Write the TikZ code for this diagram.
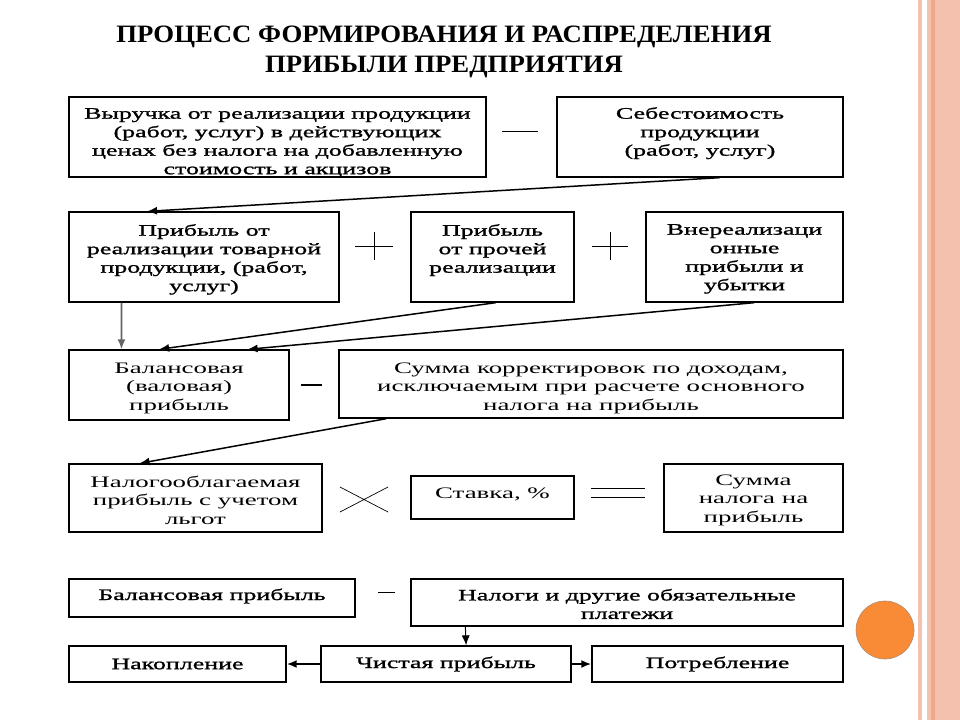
\documentclass[tikz,border=0pt]{standalone}
\usepackage{fontspec}
\setmainfont{Liberation Serif}
\newfontfamily\boxfont[FakeStretch=1.68]{Liberation Serif}
\newfontfamily\boxfontb[FakeStretch=1.62,FakeBold=1.2]{Liberation Serif}
\newfontfamily\titlefont[FakeStretch=1.07]{Liberation Serif}
\usetikzlibrary{arrows.meta,calc}
\definecolor{stripeA}{HTML}{F3C1AE}
\definecolor{stripeB}{HTML}{EDA88E}
\definecolor{orangeC}{HTML}{F98A36}
\definecolor{orangeE}{HTML}{B08A70}
\begin{document}
\begin{tikzpicture}[x=1pt,y=-1pt,
 box/.style={draw=black,line width=1.3pt,inner sep=0pt},
 txt/.style={font=\boxfont\fontsize{16}{18.5}\selectfont,align=center,inner sep=0pt},
 txtb/.style={font=\boxfontb\fontsize{16}{18.5}\selectfont,align=center,inner sep=0pt},
 arr/.style={line width=1.5pt,-{Latex[length=10pt,width=8pt]}},
 op/.style={line width=1pt}]
\fill[white] (0,0) rectangle (960,720);
\useasboundingbox (0,0) rectangle (960,720);
% decorative stripes and circle
\fill[stripeA] (918,0) rectangle (922,720);
\fill[stripeA] (927,0) rectangle (960,720);
\fill[stripeB] (931,0) rectangle (935,720);
\fill[orangeC,draw=orangeE,line width=0.6pt] (885,630) circle (29);
% title
\node[font=\titlefont\bfseries\fontsize{25}{30}\selectfont,align=center,inner sep=0pt] (title) at (444,52) {ПРОЦЕСС ФОРМИРОВАНИЯ И РАСПРЕДЕЛЕНИЯ\\ПРИБЫЛИ ПРЕДПРИЯТИЯ};
% row 1
\node[box,minimum width=417,minimum height=80] (A) at (277.5,137) {};
\node[txtb,anchor=north] (At) at (277.5,108) {Выручка от реализации продукции\\(работ, услуг) в действующих\\ценах без налога на добавленную\\стоимость и акцизов};
\node[box,minimum width=286,minimum height=80] (B) at (700,137) {};
\node[txtb,anchor=north] (Bt) at (700,107) {Себестоимость\\продукции\\(работ, услуг)};
% row 2
\node[box,minimum width=270,minimum height=90] (C) at (204,257) {};
\node[txtb,anchor=north] (Ct) at (204,224) {Прибыль от\\реализации товарной\\продукции, (работ,\\услуг)};
\node[box,minimum width=163,minimum height=90] (D) at (492.5,257) {};
\node[txtb,anchor=north] (Dt) at (492.5,224) {Прибыль\\от прочей\\реализации};
\node[box,minimum width=197,minimum height=90] (E) at (744.5,257) {};
\node[txtb,anchor=north] (Et) at (744.5,224) {Внереализаци\\онные\\прибыли и\\убытки};
% row 3
\node[box,minimum width=220,minimum height=70] (F) at (179,385) {};
\node[txt] (Ft) at (179,388) {Балансовая\\(валовая)\\прибыль};
\node[box,minimum width=504,minimum height=68] (G) at (591,384) {};
\node[txt] (Gt) at (591,388) {Сумма корректировок по доходам,\\исключаемым при расчете основного\\налога на прибыль};
% row 4
\node[box,minimum width=253,minimum height=68] (H) at (195.5,498) {};
\node[txt] (Ht) at (195.5,500) {Налогооблагаемая\\прибыль с учетом\\льгот};
\node[box,minimum width=163,minimum height=43] (I) at (492.5,497.5) {};
\node[txt] (It) at (492.5,494) {Ставка, \%};
\node[box,minimum width=179,minimum height=68] (J) at (753.5,498) {};
\node[txt] (Jt) at (753.5,500) {Сумма\\налога на\\прибыль};
% row 5
\node[box,minimum width=286,minimum height=38] (K) at (212,598) {};
\node[txtb] (Kt) at (212,596) {Балансовая прибыль};
\node[box,minimum width=432,minimum height=47] (L) at (627,602.5) {};
\node[txtb] (Lt) at (627,604) {Налоги и другие обязательные\\платежи};
% row 6
\node[box,minimum width=217,minimum height=36] (N) at (177.5,664) {};
\node[txtb] (Nt) at (177.5,664) {Накопление};
\node[box,minimum width=250,minimum height=36] (M) at (446,664) {};
\node[txtb] (Mt) at (446,664) {Чистая прибыль};
\node[box,minimum width=251,minimum height=36] (O) at (717.5,664) {};
\node[txtb] (Ot) at (717.5,664) {Потребление};
% operators
\draw[op] (502,131) -- (538,131);
\draw[op] (374,232) -- (374,260) (355,246) -- (393,246);
\draw[op] (610,232) -- (610,260) (592,246) -- (628,246);
\draw[line width=2.2pt] (301,385) -- (322,385);
\draw[op,line width=0.7pt] (340,487) -- (388,512) (340,512) -- (388,487);
\draw[op] (591,488) -- (645,488) (591,497) -- (645,497);
\draw[op] (378,592) -- (395,592);
% arrows
\draw[arr] ($(B.south west)!0.57!(B.south east)$) -- ($(C.north west)!0.29!(C.north east)$);
\draw[arr,draw=black!60,line width=1.8pt] ($(C.south west)!0.196!(C.south east)$) -- ($(F.north west)!0.24!(F.north east)$);
\draw[arr] ($(D.south west)!0.52!(D.south east)$) -- ($(F.north west)!0.41!(F.north east)$);
\draw[arr] ($(E.south west)!0.55!(E.south east)$) -- ($(F.north west)!0.81!(F.north east)$);
\draw[arr] ($(G.south west)!0.095!(G.south east)$) -- ($(H.north west)!0.28!(H.north east)$);
\draw[arr,line width=1pt] ($(L.south west)!0.127!(L.south east)$) -- ($(M.north west)!0.58!(M.north east)$);
\draw[arr,line width=2pt] (M.west) -- (N.east);
\draw[arr,line width=2pt] (M.east) -- (O.west);
\end{tikzpicture}
\end{document}
